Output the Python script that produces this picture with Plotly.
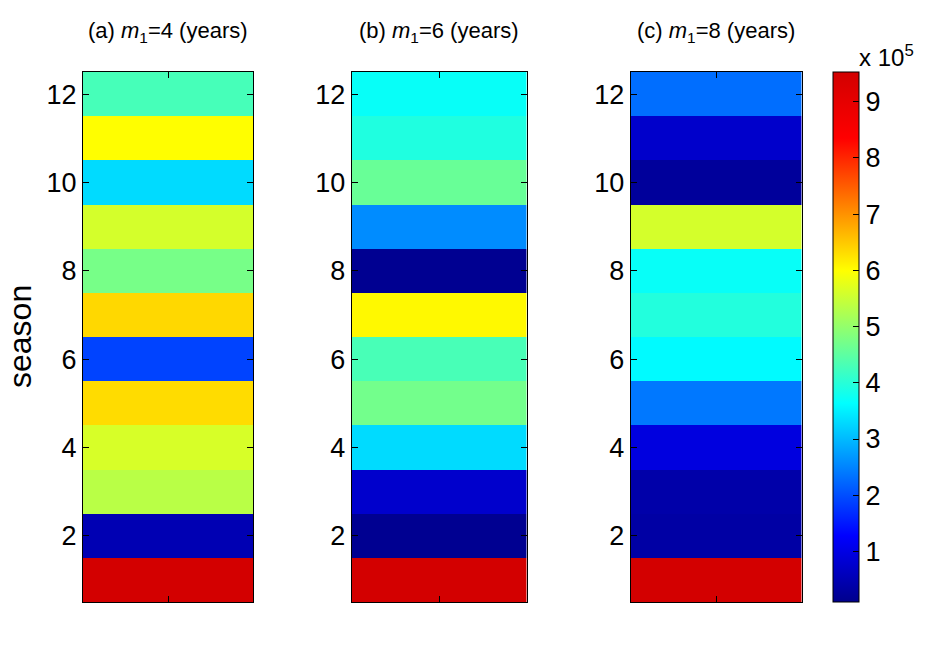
import plotly.graph_objects as go

seasons = [1, 2, 3, 4, 5, 6, 7, 8, 9, 10, 11, 12]
# values in units of 10^5
panel_a = [9.5, 0.5, 5.35, 5.62, 6.32, 1.9, 6.35, 4.74, 5.6, 3.3, 6.0, 4.28]
panel_b = [9.5, 0.15, 0.76, 3.3, 4.7, 4.3, 6.05, 0.15, 2.57, 4.6, 3.92, 3.7]
panel_c = [9.5, 0.35, 0.4, 0.95, 2.39, 3.6, 3.95, 3.7, 5.6, 0.25, 0.75, 2.3]
titles = ["(a) <i>m</i><sub>1</sub>=4 (years)",
          "(b) <i>m</i><sub>1</sub>=6 (years)",
          "(c) <i>m</i><sub>1</sub>=8 (years)"]
cbar_ticks = [1, 2, 3, 4, 5, 6, 7, 8, 9]
y_ticks = [2, 4, 6, 8, 10, 12]

OFF = 8  # page body margin
W, H = 933 - OFF, 652 - OFF
FONT = "Liberation Sans, Arial, Helvetica, sans-serif"


def px(x):
    return (x - OFF) / W


def py(y):
    return 1 - (y - OFF) / H


jet = [[0.0, "rgb(0,0,140)"], [0.125, "rgb(0,0,255)"], [0.375, "rgb(0,255,255)"],
       [0.625, "rgb(255,255,0)"], [0.875, "rgb(255,0,0)"], [1.0, "rgb(210,0,0)"]]

panels = [panel_a, panel_b, panel_c]
xdoms = [(px(83), px(253.3)), (px(351.7), px(526.7)), (px(630.7), px(801.7))]
ydom = (py(602), py(72))

fig = go.Figure()
layout = {}
for i, vals in enumerate(panels):
    sfx = "" if i == 0 else str(i + 1)
    fig.add_trace(go.Heatmap(
        x=[1], y=seasons, z=[[v] for v in vals],
        coloraxis="coloraxis", xaxis="x" + sfx, yaxis="y" + sfx,
        zsmooth=False, showscale=False))
    layout["xaxis" + sfx] = dict(
        domain=list(xdoms[i]), range=[0.5, 1.5], tickvals=[1], showticklabels=False,
        ticks="inside", ticklen=6, tickcolor="black", showline=True, linecolor="black",
        linewidth=1, mirror="ticks", showgrid=False, zeroline=False,
        anchor="y" + sfx, fixedrange=True)
    layout["yaxis" + sfx] = dict(
        domain=list(ydom), range=[0.5, 12.5], tickvals=y_ticks,
        ticks="inside", ticklen=6, tickcolor="black", showline=True, linecolor="black",
        linewidth=1, mirror="ticks", showgrid=False, zeroline=False,
        tickfont=dict(family=FONT, size=27, color="black"),
        anchor="x" + sfx, fixedrange=True)

annotations = []
for i, t in enumerate(titles):
    cx = (xdoms[i][0] + xdoms[i][1]) / 2
    annotations.append(dict(text=t, x=cx, y=py(32), xref="paper", yref="paper",
                            xanchor="center", yanchor="middle", showarrow=False,
                            font=dict(family=FONT, size=22, color="black")))
annotations.append(dict(text="season", x=px(20), y=py(337), xref="paper", yref="paper",
                        xanchor="center", yanchor="middle", showarrow=False, textangle=-90,
                        height=24, borderpad=0,
                        font=dict(family=FONT, size=32, color="black")))
annotations.append(dict(text="x 10<sup>5</sup>", x=px(857), y=py(56), xref="paper",
                        yref="paper", xanchor="left", yanchor="middle", showarrow=False,
                        font=dict(family=FONT, size=24, color="black")))

fig.update_layout(
    width=W, height=H, margin=dict(l=0, r=0, t=0, b=0),
    paper_bgcolor="white", plot_bgcolor="white",
    font=dict(family=FONT, color="black"),
    coloraxis=dict(
        colorscale=jet, cmin=0.1, cmax=9.53,
        colorbar=dict(
            x=px(832.7), xanchor="left", xpad=0, ypad=0,
            y=ydom[0], yanchor="bottom", len=ydom[1] - ydom[0], lenmode="fraction",
            thickness=26, thicknessmode="pixels",
            outlinewidth=1, outlinecolor="black",
            tickvals=cbar_ticks, ticks="inside", ticklen=6, tickcolor="black",
            tickfont=dict(family=FONT, size=27, color="black"))),
    annotations=annotations,
    showlegend=False,
    **layout)

fig.write_html("out.html")
